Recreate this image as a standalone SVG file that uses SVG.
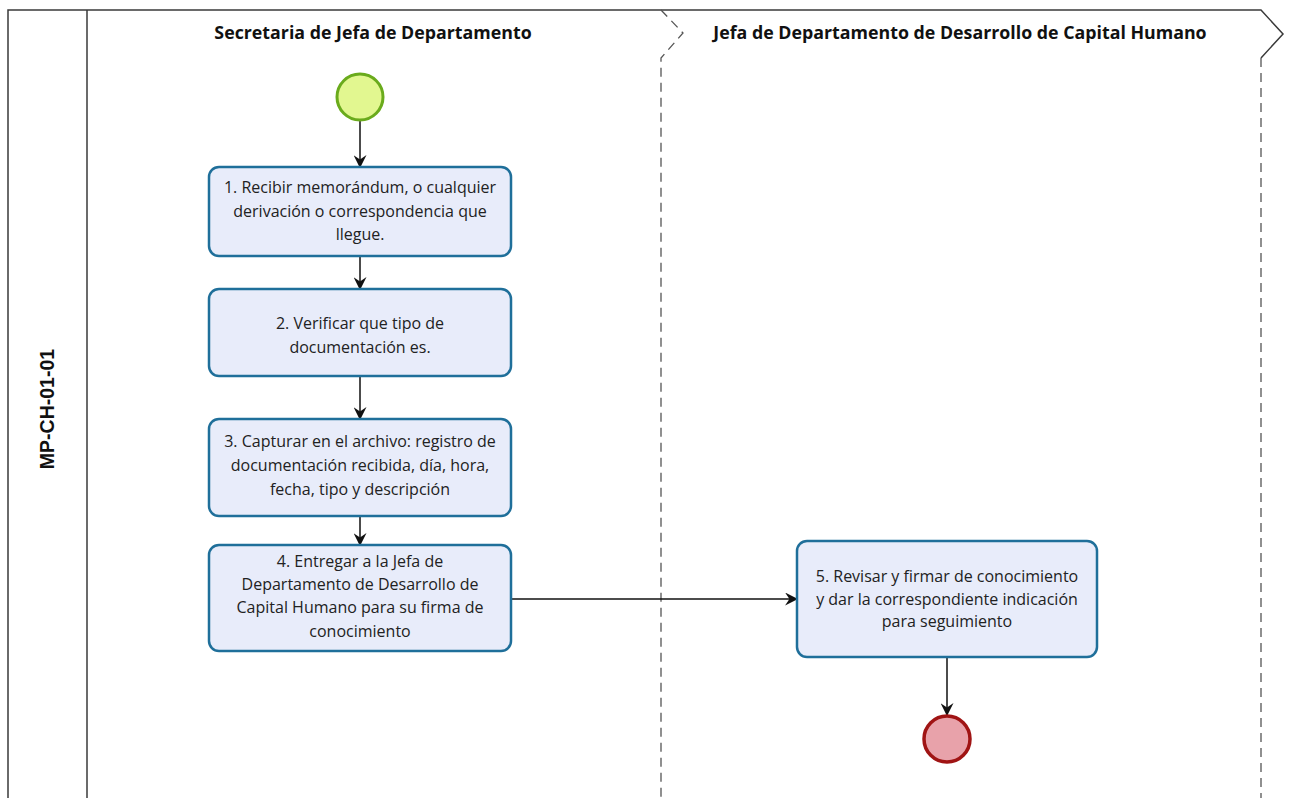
<svg xmlns="http://www.w3.org/2000/svg" width="1291" height="798" viewBox="0 0 1291 798">
<style>
.pool{fill:none;stroke:#3a3a3a;stroke-width:1.5}
.dash{fill:none;stroke:#555;stroke-width:1.3;stroke-dasharray:9 6}
.hdr{font-family:"Open Sans","Noto Sans",sans-serif;font-weight:bold;font-size:17.8px;fill:#111;text-anchor:middle}
.task{fill:#e8ecfa;stroke:#1f6f9a;stroke-width:2.5}
.tt{font-family:"Open Sans","Noto Sans",sans-serif;font-size:16px;fill:#222;text-anchor:middle}
.flow{fill:none;stroke:#111;stroke-width:1.5;marker-end:url(#arr)}
</style>
<defs>
<marker id="arr" viewBox="0 0 12 12" refX="11" refY="6" markerWidth="13" markerHeight="13" markerUnits="userSpaceOnUse" orient="auto">
<path d="M0,0 L12,6 L0,12 L4,6 Z" fill="#111"/>
</marker>
</defs>
<rect width="1291" height="798" fill="#fff"/>
<g id="pool">
<path class="pool" d="M8,798 V10 H1261 L1283,34 L1261,58"/>
<path class="pool" d="M87,10 V798"/>
<path class="dash" d="M1261,58 V798"/>
<text x="47" y="409" transform="rotate(-90 47 409)" font-family="Liberation Sans,Arial,sans-serif" font-weight="bold" font-size="19.5" text-anchor="middle" dominant-baseline="central" fill="#111">MP-CH-01-01</text>
</g>
<g id="lane1">
<text class="hdr" x="373" y="39">Secretaria de Jefa de Departamento</text>
</g>
<g id="lane2">
<path class="dash" d="M661,10 L683,33 L661,58 V798"/>
<text class="hdr" x="960" y="39">Jefa de Departamento de Desarrollo de Capital Humano</text>
</g>
<g id="connectors">
<path class="flow" d="M360,121 V167"/>
<path class="flow" d="M360,256 V289"/>
<path class="flow" d="M360,376 V419"/>
<path class="flow" d="M360,516 V545"/>
<path class="flow" d="M511,599 H797"/>
<path class="flow" d="M947,657 V715"/>
</g>
<g id="start">
<circle cx="360" cy="97" r="23" fill="#e2f790" stroke="#6aab1c" stroke-width="3"/>
</g>
<g id="task1">
<rect class="task" x="209" y="167" width="302" height="89" rx="10"/>
<text class="tt" x="360" y="193">1. Recibir memorándum, o cualquier</text>
<text class="tt" x="360" y="217">derivación o correspondencia que</text>
<text class="tt" x="360" y="240">llegue.</text>
</g>
<g id="task2">
<rect class="task" x="209" y="289" width="302" height="87" rx="10"/>
<text class="tt" x="360" y="329">2. Verificar que tipo de</text>
<text class="tt" x="360" y="353">documentación es.</text>
</g>
<g id="task3">
<rect class="task" x="209" y="419" width="302" height="97" rx="10"/>
<text class="tt" x="360" y="447">3. Capturar en el archivo: registro de</text>
<text class="tt" x="360" y="471">documentación recibida, día, hora,</text>
<text class="tt" x="360" y="495">fecha, tipo y descripción</text>
</g>
<g id="task4">
<rect class="task" x="209" y="545" width="302" height="106" rx="10"/>
<text class="tt" x="360" y="567">4. Entregar a la Jefa de</text>
<text class="tt" x="360" y="590">Departamento de Desarrollo de</text>
<text class="tt" x="360" y="613">Capital Humano para su firma de</text>
<text class="tt" x="360" y="637">conocimiento</text>
</g>
<g id="task5">
<rect class="task" x="797" y="541" width="300" height="116" rx="10"/>
<text class="tt" x="947" y="582">5. Revisar y firmar de conocimiento</text>
<text class="tt" x="947" y="605">y dar la correspondiente indicación</text>
<text class="tt" x="947" y="627">para seguimiento</text>
</g>
<g id="end">
<circle cx="947" cy="739" r="23" fill="#e8a2aa" stroke="#a01414" stroke-width="3.5"/>
</g>
</svg>
